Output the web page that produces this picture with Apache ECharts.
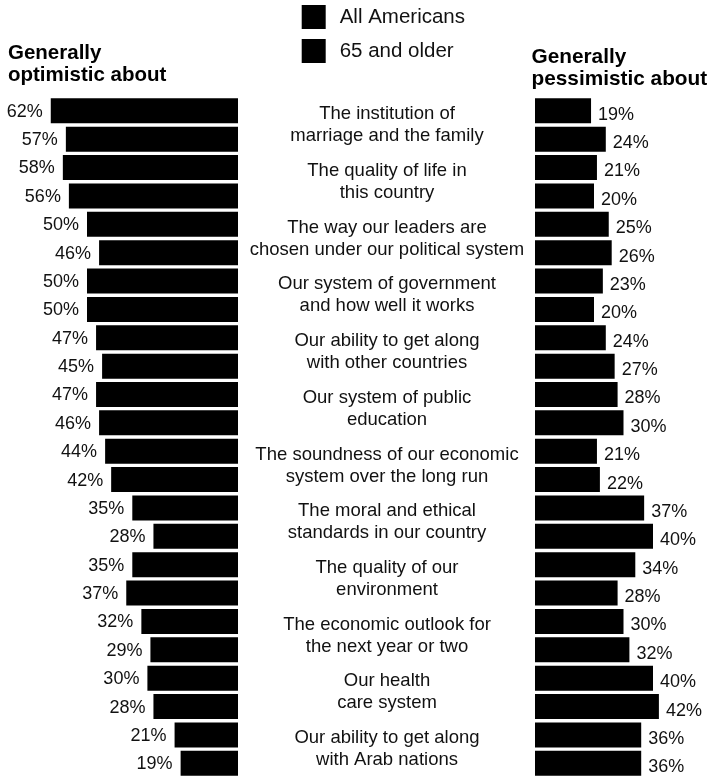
<!DOCTYPE html>
<html>
<head>
<meta charset="utf-8">
<script src="https://cdn.jsdelivr.net/npm/echarts@6/dist/echarts.min.js"></script>
<style>
html,body{margin:0;padding:0;background:#fff;}
#chart{width:709px;height:782px;}
</style>
</head>
<body>
<div id="chart"></div>
<script>
const categories = [
  'The institution of\nmarriage and the family',
  'The quality of life in\nthis country',
  'The way our leaders are\nchosen under our political system',
  'Our system of government\nand how well it works',
  'Our ability to get along\nwith other countries',
  'Our system of public\neducation',
  'The soundness of our economic\nsystem over the long run',
  'The moral and ethical\nstandards in our country',
  'The quality of our\nenvironment',
  'The economic outlook for\nthe next year or two',
  'Our health\ncare system',
  'Our ability to get along\nwith Arab nations'
];
const seriesNames = ['All Americans', '65 and older'];
const optimisticAll = [62, 58, 50, 50, 47, 47, 44, 35, 35, 32, 30, 21];
const optimistic65 = [57, 56, 46, 50, 45, 46, 42, 28, 37, 29, 28, 19];
const pessimisticAll = [19, 21, 25, 23, 24, 28, 21, 37, 34, 30, 40, 36];
const pessimistic65 = [24, 20, 26, 20, 27, 30, 22, 40, 28, 32, 42, 36];
const leftTitle = 'Generally\noptimistic about';
const rightTitle = 'Generally\npessimistic about';

const FONT = "'Liberation Sans', Arial, Helvetica, sans-serif";
const chart = echarts.init(document.getElementById('chart'), null, {renderer: 'canvas'});

function barSeries(name, data, axisIdx, side) {
  return {
    name: name,
    type: 'bar',
    xAxisIndex: axisIdx,
    yAxisIndex: axisIdx,
    data: data,
    barWidth: 25,
    barGap: '13.5%',
    itemStyle: {color: '#000'},
    label: {
      show: true,
      position: side,
      distance: side === 'left' ? 8 : 7,
      offset: side === 'left' ? [0, 1] : [0, 4],
      formatter: '{c}%',
      color: '#111',
      fontFamily: FONT,
      fontSize: 18
    },
    silent: true
  };
}

const gridTop = 96.6, gridBottom = 4.5;

chart.setOption({
  animation: false,
  backgroundColor: '#fff',
  title: [
    {text: leftTitle, left: 3, top: 37, padding: 5,
     textStyle: {fontFamily: FONT, fontWeight: 'bold', fontSize: 20.5, lineHeight: 22, color: '#000'}},
    {text: rightTitle, left: 526.5, top: 41, padding: 5,
     textStyle: {fontFamily: FONT, fontWeight: 'bold', fontSize: 20.8, lineHeight: 22, color: '#000'}}
  ],
  legend: {
    data: seriesNames,
    orient: 'vertical',
    left: 296.7,
    top: 0,
    padding: 5,
    itemWidth: 24,
    itemHeight: 24,
    itemGap: 10,
    icon: 'rect',
    selectedMode: false,
    textStyle: {fontFamily: FONT, fontSize: 20.5, color: '#111', padding: [6, 0, 0, 9]}
  },
  grid: [
    {left: 26.6, right: 471, top: gridTop, bottom: gridBottom, containLabel: false},
    {left: 535, right: 26.5, top: gridTop, bottom: gridBottom, containLabel: false}
  ],
  xAxis: [
    {gridIndex: 0, type: 'value', min: 0, max: 70, inverse: true, show: false},
    {gridIndex: 1, type: 'value', min: 0, max: 50, show: false}
  ],
  yAxis: [
    {gridIndex: 0, type: 'category', data: categories, inverse: true, show: false},
    {gridIndex: 1, type: 'category', data: categories, inverse: true, position: 'left',
     axisLine: {show: false}, axisTick: {show: false},
     axisLabel: {show: true, align: 'center', margin: 148, fontFamily: FONT, fontSize: 18.5,
                 lineHeight: 22, color: '#111', interval: 0}}
  ],
  series: [
    barSeries(seriesNames[0], optimisticAll, 0, 'left'),
    barSeries(seriesNames[1], optimistic65, 0, 'left'),
    barSeries(seriesNames[0], pessimisticAll, 1, 'right'),
    barSeries(seriesNames[1], pessimistic65, 1, 'right')
  ]
});
</script>
</body>
</html>
